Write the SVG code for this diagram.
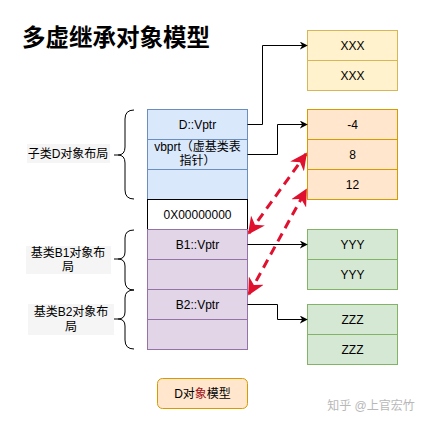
<svg xmlns="http://www.w3.org/2000/svg" width="431" height="425" viewBox="0 0 431 425">
<defs>
<style>
text{font-family:"Liberation Sans","Noto Sans CJK SC",sans-serif;font-size:12px;fill:#000;text-anchor:middle}
.blue{fill:#dae8fc;stroke:#6c8ebf}
.purple{fill:#e1d5e7;stroke:#9673a6}
.white{fill:#fff;stroke:#000}
.yellow{fill:#fff2cc;stroke:#d6b656}
.orange{fill:#ffe6cc;stroke:#d79b00}
.green{fill:#d5e8d4;stroke:#82b366}
.conn{fill:none;stroke:#000;stroke-width:1}
.red{fill:none;stroke:#e0102f;stroke-width:3;stroke-dasharray:9 6}
.brace{fill:none;stroke:#000;stroke-width:1}
.lbg{fill:#f5f5f5}
</style>
<marker id="arr" viewBox="0 0 10 10" refX="9" refY="5" markerWidth="8" markerHeight="8" markerUnits="userSpaceOnUse" orient="auto">
<path d="M0,0 L10,5 L0,10 L3,5 z" fill="#000"/>
</marker>
<marker id="rarr" viewBox="0 0 10 10" refX="9" refY="5" markerWidth="17" markerHeight="17" markerUnits="userSpaceOnUse" orient="auto-start-reverse">
<path d="M0,0 L10,5 L0,10 L3,5 z" fill="#e0102f"/>
</marker>
</defs>
<rect width="431" height="425" fill="#fff"/>
<text x="22" y="46" style="font-size:23.5px;font-weight:bold;text-anchor:start">多虚继承对象模型</text>

<g id="labels">
<rect class="lbg" x="27" y="144" width="83" height="19"/>
<text x="68" y="158">子类D对象布局</text>
<rect class="lbg" x="26" y="246" width="85" height="28"/>
<text x="68" y="257">基类B1对象布</text>
<text x="68" y="271">局</text>
<rect class="lbg" x="28" y="304" width="86" height="31"/>
<text x="71" y="316">基类B2对象布</text>
<text x="71" y="331">局</text>
</g>

<g id="braces">
<path class="brace" d="M134,110 Q125,110 125,119 L125,147 Q125,155 118,155 Q125,155 125,163 L125,190 Q125,199 134,199"/>
<line class="brace" x1="114" y1="155" x2="118" y2="155"/>
<path class="brace" d="M134,230 Q125,230 125,238 L125,252 Q125,259 118,259 Q125,259 125,266 L125,281 Q125,290 134,290"/>
<line class="brace" x1="114" y1="259" x2="118" y2="259"/>
<path class="brace" d="M134,290 Q125,290 125,298 L125,312 Q125,319 118,319 Q125,319 125,326 L125,340 Q125,349 134,349"/>
<line class="brace" x1="114" y1="319" x2="118" y2="319"/>
</g>

<g id="D-layout">
<rect class="blue" x="147.5" y="109.5" width="100" height="30"/>
<text x="197.5" y="128.5">D::Vptr</text>
<rect class="blue" x="147.5" y="139.5" width="100" height="30"/>
<text x="197.5" y="151">vbprt（虚基类表</text>
<text x="197.5" y="165">指针）</text>
<rect class="blue" x="147.5" y="169.5" width="100" height="30"/>
</g>
<g id="null-row">
<rect class="white" x="147.5" y="199.5" width="100" height="30"/>
<text x="197.5" y="219">0X00000000</text>
</g>
<g id="B1-layout">
<rect class="purple" x="147.5" y="229.5" width="100" height="30"/>
<text x="197.5" y="248.5">B1::Vptr</text>
<rect class="purple" x="147.5" y="259.5" width="100" height="30"/>
</g>
<g id="B2-layout">
<rect class="purple" x="147.5" y="289.5" width="100" height="30"/>
<text x="197.5" y="308.5">B2::Vptr</text>
<rect class="purple" x="147.5" y="319.5" width="100" height="30"/>
</g>

<g id="xxx-table">
<rect class="yellow" x="307.5" y="30.5" width="90" height="30"/>
<text x="352.5" y="49.5">XXX</text>
<rect class="yellow" x="307.5" y="60.5" width="90" height="30"/>
<text x="352.5" y="79.5">XXX</text>
</g>
<g id="vbtable">
<rect class="orange" x="307.5" y="109.5" width="90" height="30"/>
<text x="352.5" y="128.5">-4</text>
<rect class="orange" x="307.5" y="139.5" width="90" height="30"/>
<text x="352.5" y="158.5">8</text>
<rect class="orange" x="307.5" y="169.5" width="90" height="30"/>
<text x="352.5" y="188.5">12</text>
</g>
<g id="yyy-table">
<rect class="green" x="307.5" y="229.5" width="90" height="30"/>
<text x="352.5" y="248.5">YYY</text>
<rect class="green" x="307.5" y="259.5" width="90" height="30"/>
<text x="352.5" y="278.5">YYY</text>
</g>
<g id="zzz-table">
<rect class="green" x="307.5" y="304.5" width="90" height="30"/>
<text x="352.5" y="323.5">ZZZ</text>
<rect class="green" x="307.5" y="334.5" width="90" height="30"/>
<text x="352.5" y="353.5">ZZZ</text>
</g>

<g id="connectors">
<path class="conn" d="M247.5,124.5 H262.5 V45.5 H307" marker-end="url(#arr)"/>
<path class="conn" d="M247.5,154.5 H277.5 V124.5 H307" marker-end="url(#arr)"/>
<path class="conn" d="M247.5,244.5 H307" marker-end="url(#arr)"/>
<path class="conn" d="M247.5,304.5 H277.5 V319.5 H307" marker-end="url(#arr)"/>
<path class="red" d="M249,233 L306,154" marker-start="url(#rarr)" marker-end="url(#rarr)"/>
<path class="red" d="M249,294 L306,190" marker-start="url(#rarr)" marker-end="url(#rarr)"/>
</g>

<g id="legend">
<rect x="157.5" y="378.5" width="90" height="30" rx="5" fill="#ffe6cc" stroke="#d79b00"/>
<text x="202.5" y="397.5">D对<tspan fill="#a0101a">象</tspan>模型</text>
</g>
<text x="371" y="410" style="font-size:12px;fill:#b8b8b8">知乎 @上官宏竹</text>
</svg>
